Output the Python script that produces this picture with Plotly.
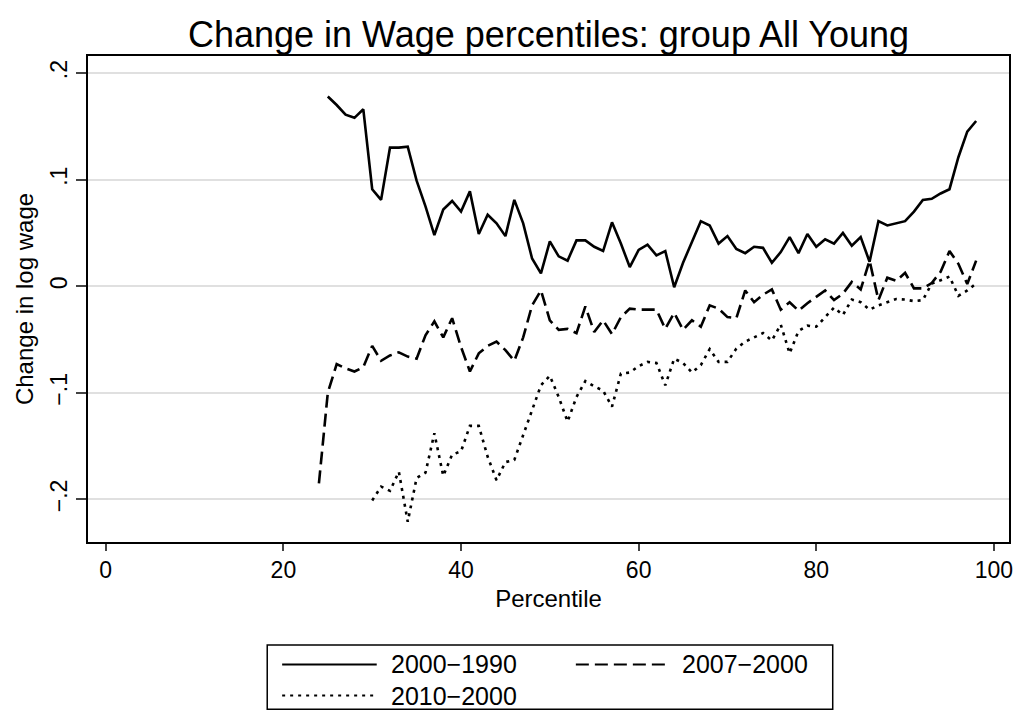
import plotly.graph_objects as go

# percentiles for each series
pct_9000 = list(range(25, 99))
pct_0700 = list(range(24, 99))
pct_1000 = list(range(30, 99))

chg_9000 = [0.178, 0.170, 0.161, 0.158, 0.166, 0.091, 0.081, 0.130, 0.130, 0.131,
            0.099, 0.075, 0.048, 0.072, 0.080, 0.070, 0.089, 0.049, 0.067, 0.059,
            0.047, 0.081, 0.059, 0.026, 0.012, 0.042, 0.028, 0.024, 0.043, 0.043,
            0.037, 0.033, 0.060, 0.040, 0.018, 0.034, 0.039, 0.029, 0.033, -0.001,
            0.022, 0.042, 0.061, 0.057, 0.040, 0.047, 0.035, 0.031, 0.037, 0.036,
            0.022, 0.032, 0.046, 0.031, 0.049, 0.037, 0.044, 0.040, 0.050, 0.038,
            0.046, 0.023, 0.061, 0.057, 0.059, 0.061, 0.070, 0.081, 0.082, 0.087,
            0.091, 0.121, 0.145, 0.155]

chg_0700 = [-0.185, -0.100, -0.073, -0.077, -0.080, -0.076, -0.056, -0.070, -0.065, -0.062,
            -0.066, -0.068, -0.046, -0.033, -0.048, -0.030, -0.057, -0.080, -0.063, -0.056,
            -0.052, -0.060, -0.070, -0.048, -0.018, -0.004, -0.032, -0.041, -0.040, -0.044,
            -0.019, -0.043, -0.032, -0.045, -0.029, -0.021, -0.022, -0.022, -0.022, -0.040,
            -0.025, -0.041, -0.032, -0.038, -0.018, -0.021, -0.029, -0.030, -0.004, -0.015,
            -0.008, -0.003, -0.022, -0.015, -0.023, -0.016, -0.010, -0.004, -0.013, -0.007,
            0.004, -0.003, 0.024, -0.013, 0.008, 0.005, 0.0125, -0.002, -0.002, 0.003,
            0.0135, 0.033, 0.021, 0.002, 0.024]

chg_1000 = [-0.201, -0.188, -0.192, -0.174, -0.221, -0.180, -0.175, -0.138, -0.178, -0.158,
            -0.155, -0.131, -0.131, -0.160, -0.182, -0.165, -0.163, -0.140, -0.118, -0.093,
            -0.084, -0.104, -0.127, -0.104, -0.089, -0.094, -0.098, -0.113, -0.082, -0.081,
            -0.075, -0.071, -0.072, -0.093, -0.068, -0.072, -0.081, -0.074, -0.059, -0.071,
            -0.071, -0.0585, -0.052, -0.048, -0.044, -0.051, -0.036, -0.063, -0.042, -0.037,
            -0.038, -0.029, -0.020, -0.027, -0.0125, -0.015, -0.022, -0.018, -0.015, -0.012,
            -0.0125, -0.014, -0.013, 0.0025, 0.0056, 0.009, -0.009, -0.004, 0.0025]

series_names = ["2000\u22121990", "2007\u22122000", "2010\u22122000"]
x_ticks = [0, 20, 40, 60, 80, 100]
y_ticks = [-0.2, -0.1, 0, 0.1, 0.2]
y_tick_text = ["\u2212.2", "\u2212.1", "0", ".1", ".2"]

FONT = "Liberation Sans, Arial, sans-serif"
dashes = ["solid", "13px,6px", "3px,5px"]

fig = go.Figure()
for x, y, name, d in zip([pct_9000, pct_0700, pct_1000],
                         [chg_9000, chg_0700, chg_1000], series_names, dashes):
    fig.add_trace(go.Scatter(x=x, y=y, mode="lines", name=name,
                             line=dict(color="black", width=2.6, dash=d)))

# hand made legend box below the plot (Stata style)
shapes = [dict(type="rect", xref="paper", yref="paper", x0=0.1946, x1=0.8086,
               y0=-0.344, y1=-0.212, line=dict(color="black", width=1.5))]
rows = [(0.2108, 0.3135, -0.252), (0.5297, 0.6303, -0.252), (0.2108, 0.3135, -0.316)]
annotations = []
for (x0, x1, yy), name, d in zip(rows, series_names, dashes):
    shapes.append(dict(type="line", xref="paper", yref="paper", x0=x0, x1=x1,
                       y0=yy, y1=yy, line=dict(color="black", width=2, dash=d)))
    annotations.append(dict(xref="paper", yref="paper", x=x1 + 0.013, y=yy,
                            xanchor="left", yanchor="middle", showarrow=False,
                            text=name, font=dict(size=25, color="black", family=FONT)))

fig.update_layout(
    width=1023, height=711,
    margin=dict(l=88, r=10, t=56, b=169),
    paper_bgcolor="white", plot_bgcolor="white",
    showlegend=False,
    font=dict(family=FONT, color="black", size=23),
    title=dict(text="Change in Wage percentiles: group All Young", x=0.5, xref="paper",
               xanchor="center", y=0.951, yanchor="middle", font=dict(size=36, family=FONT)),
    shapes=shapes, annotations=annotations,
)
fig.update_xaxes(range=[-2.0, 101.7], tickvals=x_ticks, ticks="outside", ticklen=7,
                 tickwidth=1.5, showline=True, linecolor="black", linewidth=1.5,
                 mirror=True, showgrid=False, zeroline=False,
                 title=dict(text="Percentile", standoff=8, font=dict(size=24)),
                 tickfont=dict(size=23))
fig.update_yaxes(range=[-0.240, 0.216], tickvals=y_ticks, ticktext=y_tick_text,
                 tickangle=-90, ticks="outside", ticklen=10, tickwidth=1.5,
                 showline=True, linecolor="black", linewidth=1.5, mirror=True,
                 showgrid=True, gridcolor="#e0e0e0", gridwidth=2, zeroline=False,
                 title=dict(text="Change in log wage", standoff=6, font=dict(size=24)),
                 tickfont=dict(size=23))

fig.write_html("out.html", config={"displayModeBar": False},
               post_script="document.body.style.margin='0';")
